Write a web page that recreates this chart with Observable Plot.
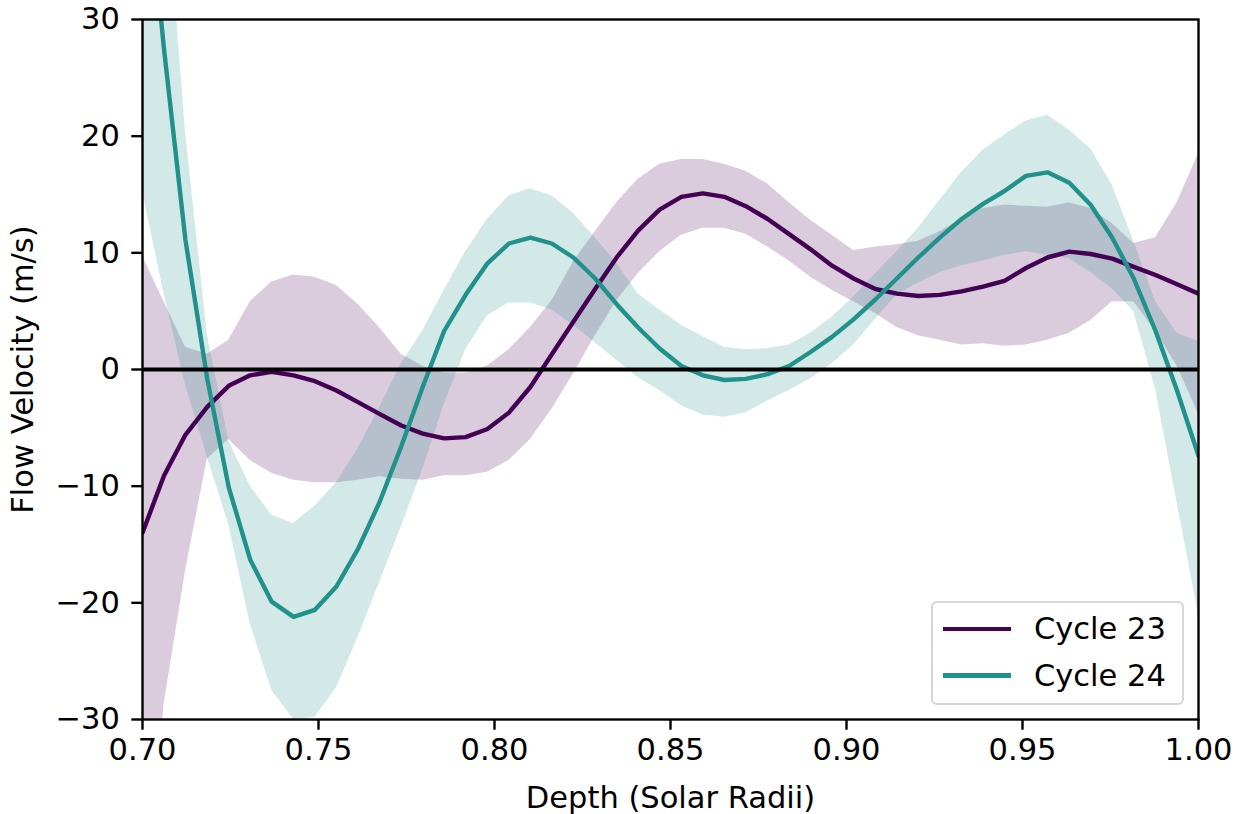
<!DOCTYPE html>
<html>
<head>
<meta charset="utf-8">
<script src="https://cdn.jsdelivr.net/npm/d3@7"></script>
<script src="https://cdn.jsdelivr.net/npm/@observablehq/plot@0.6"></script>
<style>
  html, body { margin: 0; padding: 0; background: #fff; }
  #wrap { position: relative; width: 1239px; height: 814px; font-family: "DejaVu Sans", sans-serif; }
  #legend { position: absolute; left: 931px; top: 601px; width: 249px; height: 100px;
    border: 2.4px solid #d6d6d6; border-radius: 6px; background: rgba(255,255,255,0.8); }
  .row { position: absolute; left: 0; height: 40px; display: flex; align-items: center; }
  .swatch { position: absolute; left: 10px; width: 68px; height: 4.4px; }
  .lab { position: absolute; left: 101px; font-size: 30.5px; white-space: nowrap; color: #000; line-height: 40px; }
</style>
</head>
<body>
<div id="wrap"><div id="chart"></div><div id="legend"></div></div>
<script>
// Depth grid (solar radii), 50 samples
const depth = [0.7000, 0.7061, 0.7122, 0.7184, 0.7245, 0.7306, 0.7367, 0.7429, 0.7490, 0.7551,
  0.7612, 0.7673, 0.7735, 0.7796, 0.7857, 0.7918, 0.7980, 0.8041, 0.8102, 0.8163,
  0.8224, 0.8286, 0.8347, 0.8408, 0.8469, 0.8531, 0.8592, 0.8653, 0.8714, 0.8776,
  0.8837, 0.8898, 0.8959, 0.9020, 0.9082, 0.9143, 0.9204, 0.9265, 0.9327, 0.9388,
  0.9449, 0.9510, 0.9571, 0.9633, 0.9694, 0.9755, 0.9816, 0.9878, 0.9939, 1.0000];

// Cycle 23 flow velocity (m/s) and its uncertainty band
const cycle23 = [-14.0, -9.1, -5.6, -3.2, -1.4, -0.5, -0.2, -0.5, -1.0, -1.8,
  -2.8, -3.8, -4.8, -5.5, -5.9, -5.8, -5.1, -3.7, -1.5, 1.3,
  4.1, 6.9, 9.6, 11.9, 13.7, 14.8, 15.1, 14.8, 14.0, 12.9,
  11.6, 10.3, 8.9, 7.8, 6.9, 6.5, 6.3, 6.4, 6.7, 7.1,
  7.6, 8.7, 9.6, 10.1, 9.9, 9.5, 8.8, 8.1, 7.3, 6.5];
const cycle23Low = [-50, -28.8, -17.3, -7.7, -6.0, -7.8, -8.9, -9.5, -9.7, -9.7,
  -9.5, -9.2, -9.4, -9.5, -9.1, -9.1, -8.8, -7.8, -6.0, -3.4,
  -0.4, 2.9, 5.9, 8.2, 10.1, 11.5, 12.1, 12.1, 11.6, 10.5,
  9.3, 7.9, 6.8, 5.8, 4.8, 3.6, 2.9, 2.5, 2.1, 2.2,
  2.0, 2.1, 2.5, 3.1, 4.2, 5.8, 5.8, 3.3, 0.3, -3.8];
const cycle23High = [9.7, 5.8, 1.9, 1.3, 2.5, 5.8, 7.5, 8.1, 7.9, 7.2,
  5.6, 3.6, 1.3, 0.3, -0.3, -0.3, 0.3, 1.7, 3.6, 5.9,
  9.2, 11.8, 14.3, 16.3, 17.6, 18.0, 18.0, 17.6, 17.0, 15.9,
  14.3, 12.8, 11.5, 10.2, 10.5, 10.7, 11.0, 11.8, 12.9, 13.8,
  14.1, 14.0, 13.9, 14.3, 13.8, 12.5, 10.8, 11.3, 14.3, 18.5];

// Cycle 24 flow velocity (m/s) and its uncertainty band
const cycle24 = [46, 27.5, 11.1, -0.8, -10.1, -16.3, -19.9, -21.2, -20.6, -18.6,
  -15.4, -11.4, -6.6, -1.5, 3.3, 6.4, 9.1, 10.8, 11.3, 10.8,
  9.6, 7.8, 5.6, 3.6, 1.8, 0.3, -0.5, -0.9, -0.8, -0.4,
  0.3, 1.5, 2.8, 4.3, 6.0, 7.8, 9.6, 11.3, 12.9, 14.2,
  15.3, 16.6, 16.9, 16.0, 14.1, 11.3, 7.8, 3.3, -1.8, -7.4];
const cycle24Low = [15.3, 6.5, -1.3, -7.5, -13.3, -21.8, -27.5, -30.0, -29.8, -27.3,
  -23.0, -18.3, -13.5, -8.6, -3.0, 1.7, 4.6, 5.7, 5.7, 5.1,
  3.8, 2.3, 0.8, -0.7, -1.8, -3.1, -3.9, -4.1, -3.7, -2.7,
  -1.8, -0.8, 0.5, 2.1, 4.3, 6.4, 7.4, 8.3, 8.9, 9.3,
  9.8, 10.1, 9.8, 9.5, 8.3, 6.9, 5.0, -1.7, -11.4, -21.0];
const cycle24High = [65, 44, 20.4, 3.0, -6.1, -10.0, -12.5, -13.2, -11.7, -9.7,
  -6.8, -3.3, 0.5, 3.3, 6.8, 10.1, 12.9, 14.9, 15.5, 14.9,
  13.4, 11.3, 9.1, 6.5, 5.1, 3.8, 2.8, 1.9, 1.7, 1.8,
  2.1, 3.1, 4.5, 6.2, 8.2, 10.1, 12.1, 14.5, 16.9, 18.8,
  20.1, 21.3, 21.8, 20.5, 18.9, 15.8, 11.0, 5.8, 3.1, 2.4];

const xTicks = [0.70, 0.75, 0.80, 0.85, 0.90, 0.95, 1.00];
const yTicks = [-30, -20, -10, 0, 10, 20, 30];
const seriesNames = ["Cycle 23", "Cycle 24"];
const seriesColors = ["#440154", "#21918c"];

const rows = depth.map((d, i) => ({
  depth: d,
  c23: cycle23[i], lo23: cycle23Low[i], hi23: cycle23High[i],
  c24: cycle24[i], lo24: cycle24Low[i], hi24: cycle24High[i]
}));

const fmtY = d => d < 0 ? "\u2212" + Math.abs(d) : String(d);

const chart = Plot.plot({
  width: 1239,
  height: 814,
  marginLeft: 142,
  marginRight: 41,
  marginTop: 19,
  marginBottom: 95,
  style: { fontFamily: "DejaVu Sans, sans-serif", fontSize: "30.5px", background: "#fff", color: "#000" },
  x: { domain: [0.7, 1.0] },
  y: { domain: [-30, 30] },
  marks: [
    Plot.areaY(rows, { x: "depth", y1: "lo23", y2: "hi23", fill: seriesColors[0], fillOpacity: 0.2, clip: true }),
    Plot.areaY(rows, { x: "depth", y1: "lo24", y2: "hi24", fill: seriesColors[1], fillOpacity: 0.2, clip: true }),
    Plot.lineY(rows, { x: "depth", y: "c23", stroke: seriesColors[0], strokeWidth: 4.4, strokeLinejoin: "round", clip: true }),
    Plot.lineY(rows, { x: "depth", y: "c24", stroke: seriesColors[1], strokeWidth: 4.4, strokeLinejoin: "round", clip: true }),
    Plot.ruleY([0], { stroke: "#000", strokeWidth: 4 }),
    Plot.frame({ stroke: "#000", strokeWidth: 2.4 }),
    Plot.axisX({ ticks: xTicks, tickFormat: d3.format(".2f"), tickSize: 10.7, tickPadding: 8, strokeWidth: 2.4,
      label: "Depth (Solar Radii)", labelAnchor: "center", labelArrow: "none", labelOffset: 88 }),
    Plot.axisY({ ticks: yTicks, tickFormat: fmtY, tickSize: 10.7, tickPadding: 12, strokeWidth: 2.4,
      label: "Flow Velocity (m/s)", labelAnchor: "center", labelArrow: "none", labelOffset: 131 })
  ]
});
document.getElementById("chart").appendChild(chart);

// Legend (inside the axes, lower right)
const legend = document.getElementById("legend");
seriesNames.forEach((name, i) => {
  const row = document.createElement("div");
  row.className = "row";
  row.style.top = (6 + i * 46.5) + "px";
  row.style.width = "100%";
  const sw = document.createElement("div");
  sw.className = "swatch";
  sw.style.background = seriesColors[i];
  const lab = document.createElement("div");
  lab.className = "lab";
  lab.textContent = name;
  row.appendChild(sw);
  row.appendChild(lab);
  legend.appendChild(row);
});
</script>
</body>
</html>
